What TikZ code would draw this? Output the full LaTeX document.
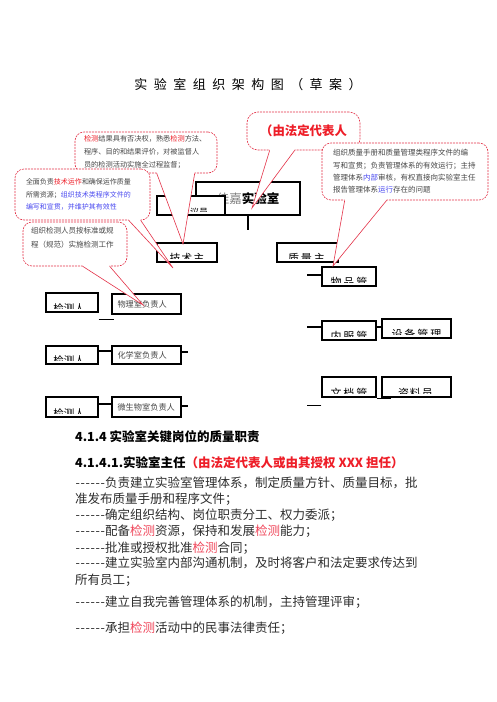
\documentclass[tikz,border=0pt]{standalone}
\usepackage{fontspec}
\newfontfamily\cjk{Noto Sans CJK SC}
\definecolor{cbord}{RGB}{228,50,72}
\definecolor{tred}{RGB}{238,30,40}
\definecolor{lred}{RGB}{240,70,90}
\definecolor{tblue}{RGB}{75,75,240}
\definecolor{tgray}{RGB}{70,70,70}
\definecolor{bgray}{RGB}{45,45,45}
\newcommand\fsz[2]{\fontsize{#1}{#2}\selectfont}
\newcommand\hy{\makebox[5pt]{-}}
\newcommand\hys{\hy\hy\hy\hy\hy\hy}
\newcommand\tg{\hspace{6.5pt}}
\newcommand\calltail[4]{%
  \fill[white] ([xshift=#2]#1.south west) -- (#4) -- ([xshift=#3]#1.south west)
     -- ([xshift=#3,yshift=2pt]#1.south west) -- ([xshift=#2,yshift=2pt]#1.south west) -- cycle;
  \draw[tailline] ([xshift=#2]#1.south west) -- (#4) -- ([xshift=#3]#1.south west);}
\tikzset{
  callout/.style={draw=cbord, line width=0.6pt, dash pattern=on 2pt off 1pt, rounded corners=9pt, fill=white, align=left, text=tgray},
  tailline/.style={draw=cbord, line width=0.6pt},
  orgbox/.style={draw=black, line width=1.1pt, fill=white, inner sep=0pt},
  clipped/.style n args={3}{path picture={\clip ([yshift=3.5pt]path picture bounding box.south west) rectangle (path picture bounding box.north east); \node[anchor=base, inner sep=0pt, font=\cjk\fsz{#2}{#2}] at ([xshift=#1]path picture bounding box.south) {#3};}},
  body/.style={anchor=base west, inner sep=0pt, font=\cjk\fsz{12.5}{12.5}, text=bgray},
  conn/.style={draw=black, line width=1.1pt},
  rbox/.style={orgbox, minimum width=69pt, align=left, text width=58pt, inner xsep=5.5pt, font=\cjk\fsz{8.2}{8.2}, text=tgray}
}
\begin{document}
\begin{tikzpicture}[x=1pt,y=-1pt,font=\cjk]
\useasboundingbox (0,0) rectangle (496,702);
\fill[white] (0,0) rectangle (496,702);

% title
\node[font=\cjk\fsz{13}{13}, inner sep=0pt] (title) at (248,85) {实\tg 验\tg 室\tg 组\tg 织\tg 架\tg 构\tg 图\tg （\tg 草\tg 案\tg ）};

% org boxes
\node[orgbox, minimum width=104pt, minimum height=33pt, font=\cjk\fsz{12.5}{12.5}] (jia) at (248,198.5) {{\color{gray}佳嘉}\textbf{实验室}};
\node[orgbox, minimum width=68pt, minimum height=19pt, clipped={8pt}{9}{议员}] (yy) at (191,205.5) {};
\draw[conn] (jia.south) -- ++(0,14) coordinate (jiad);

\node[orgbox, minimum width=60pt, minimum height=19pt, clipped={0pt}{11}{技\hspace{1pt}术\hspace{1pt}主}] (js) at (187,252.5) {};
\node[orgbox, minimum width=61pt, minimum height=19pt, clipped={-1pt}{11}{质\hspace{2pt}量\hspace{2pt}主}] (zl) at (307.5,252.5) {};

\node[orgbox, minimum width=54pt, minimum height=19pt, clipped={0pt}{11}{物\hspace{2pt}品\hspace{2pt}管}] (wp) at (349,276.5) {};
\node[orgbox, minimum width=54pt, minimum height=19pt, clipped={0pt}{11}{内\hspace{2pt}服\hspace{2pt}管}] (nf) at (349,330.5) {};
\node[orgbox, minimum width=69pt, minimum height=19pt, clipped={0pt}{11}{设\hspace{2pt}备\hspace{2pt}管\hspace{2pt}理}] (sb) at (416.5,328.5) {};
\node[orgbox, minimum width=54pt, minimum height=20pt, clipped={0pt}{11}{文\hspace{2pt}档\hspace{2pt}管}] (wd) at (349,387) {};
\node[orgbox, minimum width=69pt, minimum height=20pt, clipped={-1pt}{11}{资\hspace{1pt}料\hspace{1pt}员}] (zly) at (416.5,387) {};

\draw[conn] ([yshift=1.5pt]wp.west) -- ++(-14,0);
\draw[conn] ([yshift=3.5pt]nf.west) -- ++(-14,0);
\draw[conn] ([yshift=3.5pt]nf.east) -- ([yshift=1.5pt]sb.west);
\draw[conn] ([yshift=-1pt]wd.south east) -- ++(14,0);
\draw[conn] ([yshift=-8pt]wd.south west) -- ++(-14,0);

\node[orgbox, minimum width=52pt, minimum height=19pt, clipped={-3pt}{10.5}{检测人}] (jc1) at (72,302.5) {};
\node[rbox, minimum height=20pt] (wl) at (146.5,304) {物理室负责人};
\node[orgbox, minimum width=52pt, minimum height=18pt, clipped={-3pt}{10.5}{检测人}] (jc2) at (72,355) {};
\node[rbox, minimum height=18pt] (hx) at (146.5,355) {化学室负责人};
\node[orgbox, minimum width=52pt, minimum height=20pt, clipped={-3pt}{10.5}{检测人}] (jc3) at (72,407) {};
\node[rbox, minimum height=20pt] (ws) at (146.5,407) {微生物室负责人};

\draw[conn] ([yshift=-7pt]jc1.south east) -- ++(15,0);
\draw[conn] ([yshift=4pt]jc2.east) -- ([yshift=4pt]hx.west);
\draw[conn] ([yshift=3pt]hx.east) -- ++(6,0);
\draw[conn] ([yshift=3pt]jc3.east) -- ([yshift=3pt]ws.west);
\draw[conn] ([yshift=1pt]ws.east) -- ++(6,0);

% callouts
\coordinate (t1) at (183,244);
\coordinate (t2) at (173,268);
\coordinate (t3) at (143,305);
\coordinate (t4) at (252,208);
\coordinate (t5) at (333,266);

\node[callout, minimum height=41pt, text width=124pt, inner xsep=9pt, font=\cjk\fsz{7.2}{13}] (c1) at (146,152.5)
  {{\color{tred}检测}结果具有否决权，熟悉{\color{tred}检测}方法、\\程序、目的和结果评价，对被监督人\\员的检测活动实施全过程监督；};
\calltail{c1}{82pt}{120pt}{t1}

\node[callout, minimum height=51pt, text width=113pt, inner xsep=11pt, font=\cjk\fsz{7}{12.5}] (c2) at (82.5,194.5)
  {全面负责{\color{tred}技术运作}和确保运作质量\\所需资源；{\color{tblue}组织技术类程序文件的}\\{\color{tblue}编写和宣贯，并维护其有效性}};
\calltail{c2}{114pt}{126pt}{t2}

\node[callout, minimum height=44pt, text width=88pt, inner xsep=8pt, font=\cjk\fsz{7.5}{14}] (c3) at (75,244)
  {组织检测人员按标准或规\\程（规范）实施检测工作\\ \mbox{}};
\calltail{c3}{60pt}{87pt}{t3}

\node[callout, rounded corners=11pt, minimum width=113pt, minimum height=38pt, align=center, text=tred, font=\cjk\fsz{12.4}{12.4}\bfseries] (c4) at (303.5,131) {（由法定代表人};
\calltail{c4}{23pt}{48pt}{t4}

\node[callout, minimum height=57pt, text width=144pt, inner xsep=11pt, font=\cjk\fsz{7.5}{12.4}] (c5) at (405,171.5)
  {组织质量手册和质量管理类程序文件的编\\写和宣贯；负责管理体系的有效运行；主持\\管理体系{\color{tblue}内部}审核，有权直接向实验室主任\\报告管理体系{\color{tblue}运行}存在的问题};
\calltail{c5}{23pt}{65pt}{t5}

% body text
\node[body, text=black] (h1) at (75,441.7) {\bfseries 4.1.4 实验室关键岗位的质量职责};
\node[body, text=black] (h2) at (75,467.7) {\bfseries 4.1.4.1.实验室主任{\color{tred}（由法定代表人或由其授权 XXX 担任）}};
\node[body] (l1) at (75,487.7) {\hys 负责建立实验室管理体系，制定质量方针、质量目标，批};
\node[body] (l2) at (75,503.7) {准发布质量手册和程序文件；};
\node[body] (l3) at (75,519.7) {\hys 确定组织结构、岗位职责分工、权力委派；};
\node[body] (l4) at (75,535.7) {\hys 配备{\color{lred}检测}资源，保持和发展{\color{lred}检测}能力；};
\node[body] (l5) at (75,552.7) {\hys 批准或授权批准{\color{lred}检测}合同；};
\node[body] (l6) at (75,567.7) {\hys 建立实验室内部沟通机制，及时将客户和法定要求传达到};
\node[body] (l7) at (75,584.7) {所有员工；};
\node[body] (l8) at (75,606.7) {\hys 建立自我完善管理体系的机制，主持管理评审；};
\node[body] (l9) at (75,632.7) {\hys 承担{\color{lred}检测}活动中的民事法律责任；};
\end{tikzpicture}
\end{document}
